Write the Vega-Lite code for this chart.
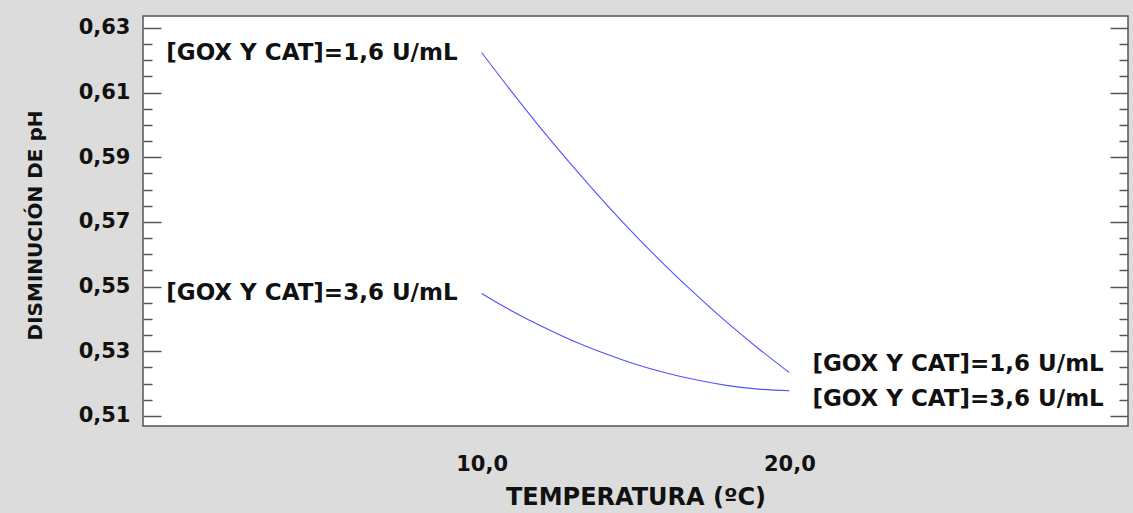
{
  "$schema": "https://vega.github.io/schema/vega-lite/v6.json",
  "width": 985,
  "height": 410,
  "autosize": {"type": "none"},
  "padding": {"left": 143, "top": 16, "right": 5, "bottom": 87},
  "background": "#dcdcdc",
  "config": {
    "view": {"fill": "white", "stroke": "#555555", "strokeWidth": 1.5},
    "font": "DejaVu Sans"
  },
  "datasets": {
    "curvas": [
      {"serie": "1,6 U/mL", "temperatura": 10, "disminucion_ph": 0.6224},
      {"serie": "1,6 U/mL", "temperatura": 11, "disminucion_ph": 0.6100},
      {"serie": "1,6 U/mL", "temperatura": 12, "disminucion_ph": 0.5981},
      {"serie": "1,6 U/mL", "temperatura": 13, "disminucion_ph": 0.5868},
      {"serie": "1,6 U/mL", "temperatura": 14, "disminucion_ph": 0.5760},
      {"serie": "1,6 U/mL", "temperatura": 15, "disminucion_ph": 0.5658},
      {"serie": "1,6 U/mL", "temperatura": 16, "disminucion_ph": 0.5562},
      {"serie": "1,6 U/mL", "temperatura": 17, "disminucion_ph": 0.5472},
      {"serie": "1,6 U/mL", "temperatura": 18, "disminucion_ph": 0.5387},
      {"serie": "1,6 U/mL", "temperatura": 19, "disminucion_ph": 0.5308},
      {"serie": "1,6 U/mL", "temperatura": 20, "disminucion_ph": 0.5234},
      {"serie": "3,6 U/mL", "temperatura": 10, "disminucion_ph": 0.5479},
      {"serie": "3,6 U/mL", "temperatura": 11, "disminucion_ph": 0.5424},
      {"serie": "3,6 U/mL", "temperatura": 12, "disminucion_ph": 0.5375},
      {"serie": "3,6 U/mL", "temperatura": 13, "disminucion_ph": 0.5331},
      {"serie": "3,6 U/mL", "temperatura": 14, "disminucion_ph": 0.5293},
      {"serie": "3,6 U/mL", "temperatura": 15, "disminucion_ph": 0.5260},
      {"serie": "3,6 U/mL", "temperatura": 16, "disminucion_ph": 0.5233},
      {"serie": "3,6 U/mL", "temperatura": 17, "disminucion_ph": 0.5211},
      {"serie": "3,6 U/mL", "temperatura": 18, "disminucion_ph": 0.5194},
      {"serie": "3,6 U/mL", "temperatura": 19, "disminucion_ph": 0.5183},
      {"serie": "3,6 U/mL", "temperatura": 20, "disminucion_ph": 0.5178}
    ],
    "etiquetas_izq": [
      {"temperatura": 10, "disminucion_ph": 0.6224, "texto": "[GOX Y CAT]=1,6 U/mL"},
      {"temperatura": 10, "disminucion_ph": 0.5479, "texto": "[GOX Y CAT]=3,6 U/mL"}
    ],
    "etiquetas_der": [
      {"temperatura": 20, "disminucion_ph": 0.5261, "texto": "[GOX Y CAT]=1,6 U/mL"},
      {"temperatura": 20, "disminucion_ph": 0.5153, "texto": "[GOX Y CAT]=3,6 U/mL"}
    ]
  },
  "layer": [
    {
      "data": {"name": "curvas"},
      "mark": {"type": "line", "interpolate": "monotone", "strokeWidth": 1.1, "color": "#5050ff"},
      "encoding": {
        "x": {
          "field": "temperatura",
          "type": "quantitative",
          "scale": {"domain": [-1, 31], "nice": false, "zero": false},
          "axis": {
            "orient": "bottom",
            "values": [10, 20],
            "ticks": false,
            "domain": false,
            "grid": false,
            "labelExpr": "replace(format(datum.value, '.1f'), '.', ',')",
            "labelPadding": 27,
            "labelFont": "DejaVu Sans",
            "labelFontWeight": "bold",
            "labelFontSize": 21,
            "labelColor": "#111111",
            "title": "TEMPERATURA (ºC)",
            "titleFont": "DejaVu Sans",
            "titleFontWeight": "bold",
            "titleFontSize": 24,
            "titleColor": "#111111",
            "titleX": 492.5,
            "titleY": 71,
            "titleAlign": "center",
            "titleBaseline": "middle"
          }
        },
        "y": {
          "field": "disminucion_ph",
          "type": "quantitative",
          "scale": {"domain": [0.5069, 0.6337], "nice": false, "zero": false},
          "axis": {
            "orient": "left",
            "values": [0.51, 0.515, 0.52, 0.525, 0.53, 0.535, 0.54, 0.545, 0.55, 0.555, 0.56, 0.565, 0.57, 0.575, 0.58, 0.585, 0.59, 0.595, 0.6, 0.605, 0.61, 0.615, 0.62, 0.625, 0.63],
            "tickSize": {"condition": {"test": "round(datum.value*1000) % 20 == 10", "value": -18}, "value": -9},
            "tickColor": "#555555",
            "tickWidth": 1.5,
            "domain": false,
            "grid": false,
            "labelOverlap": false,
            "labelFlush": false,
            "labelExpr": "round(datum.value*1000) % 20 == 10 ? replace(format(datum.value, '.2f'), '.', ',') : ''",
            "labelPadding": 31,
            "labelFont": "DejaVu Sans",
            "labelFontWeight": "bold",
            "labelFontSize": 21,
            "labelColor": "#111111",
            "title": "DISMINUCIÓN DE pH",
            "titleFont": "DejaVu Sans",
            "titleFontWeight": "bold",
            "titleFontSize": 20,
            "titleColor": "#111111",
            "titleAngle": 270,
            "titleX": -108,
            "titleY": 209,
            "titleAlign": "center",
            "titleBaseline": "middle"
          }
        },
        "detail": {"field": "serie", "type": "nominal"}
      }
    },
    {
      "data": {"name": "etiquetas_izq"},
      "mark": {"type": "text", "align": "right", "baseline": "middle", "dx": -24, "font": "DejaVu Sans", "fontWeight": "bold", "fontSize": 23, "color": "#111111"},
      "encoding": {
        "x": {"field": "temperatura", "type": "quantitative"},
        "y": {
          "field": "disminucion_ph",
          "type": "quantitative",
          "axis": {
            "orient": "right",
            "values": [0.51, 0.515, 0.52, 0.525, 0.53, 0.535, 0.54, 0.545, 0.55, 0.555, 0.56, 0.565, 0.57, 0.575, 0.58, 0.585, 0.59, 0.595, 0.6, 0.605, 0.61, 0.615, 0.62, 0.625, 0.63],
            "tickSize": {"condition": {"test": "round(datum.value*1000) % 20 == 10", "value": -18}, "value": -9},
            "tickColor": "#555555",
            "tickWidth": 1.5,
            "domain": false,
            "grid": false,
            "labels": false,
            "title": null
          }
        },
        "text": {"field": "texto", "type": "nominal"}
      }
    },
    {
      "data": {"name": "etiquetas_der"},
      "mark": {"type": "text", "align": "left", "baseline": "middle", "dx": 23, "font": "DejaVu Sans", "fontWeight": "bold", "fontSize": 23, "color": "#111111"},
      "encoding": {
        "x": {"field": "temperatura", "type": "quantitative"},
        "y": {"field": "disminucion_ph", "type": "quantitative", "axis": null},
        "text": {"field": "texto", "type": "nominal"}
      }
    }
  ],
  "resolve": {"axis": {"y": "independent"}}
}
